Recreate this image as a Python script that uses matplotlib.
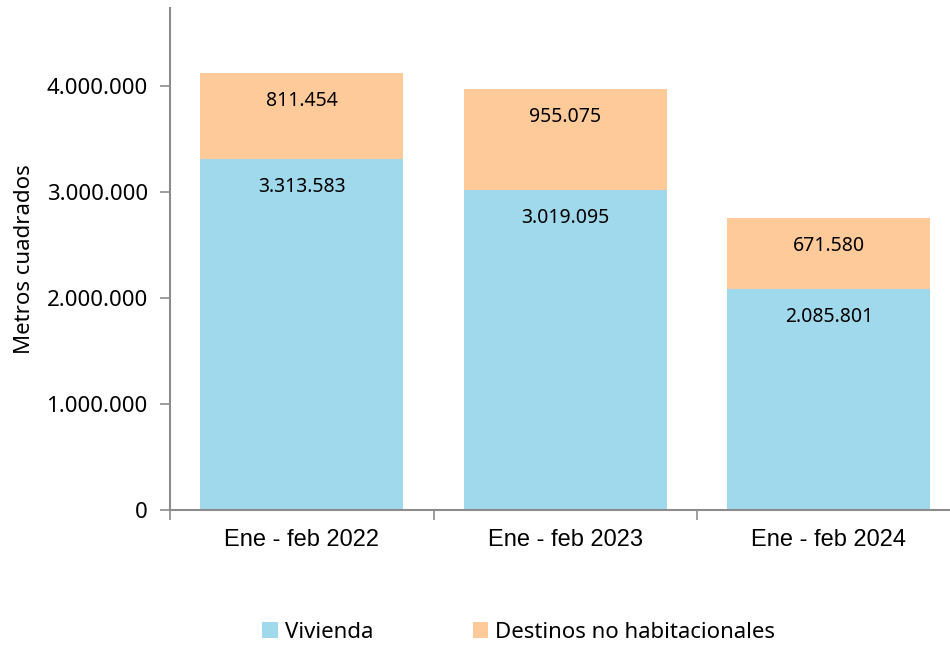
import matplotlib
matplotlib.use('Agg')
import matplotlib.pyplot as plt
import numpy as np
from matplotlib.ticker import FuncFormatter, FixedLocator

categorias = ['Ene - feb 2022', 'Ene - feb 2023', 'Ene - feb 2024']
vivienda = [3313583, 3019095, 2085801]
no_habitacional = [811454, 955075, 671580]

AZUL = '#A0D9EC'
NARANJA = '#FFCA99'
GRIS = '#8C8C8C'

def miles(v):
    return '{:,.0f}'.format(v).replace(',', '.')

fig = plt.figure(figsize=(9.5, 6.45), dpi=100)
ax = fig.add_axes([170/950, 1 - 510/645, 1 - 170/950, (510 - 8)/645])

x = np.arange(len(categorias))
ax.bar(x, vivienda, width=0.77, color=AZUL, label='Vivienda', zorder=2)
ax.bar(x, no_habitacional, width=0.77, bottom=vivienda, color=NARANJA,
       label='Destinos no habitacionales', zorder=2)

for i in range(len(x)):
    ax.annotate(miles(vivienda[i]), (x[i], vivienda[i]), xytext=(0, -20),
                textcoords='offset points', ha='center', va='center',
                fontsize=14, family='Noto Sans')
    ax.annotate(miles(no_habitacional[i]), (x[i], vivienda[i] + no_habitacional[i]),
                xytext=(0, -20), textcoords='offset points', ha='center', va='center',
                fontsize=14, family='Noto Sans')

ax.set_xlim(-0.5, 2.46)
ax.set_ylim(0, 4736000)
ax.set_yticks([0, 1000000, 2000000, 3000000, 4000000])
ax.yaxis.set_major_formatter(FuncFormatter(lambda v, p: miles(v)))
for t in ax.get_yticklabels():
    t.set_family('Noto Sans')
    t.set_fontsize(16)

ax.set_xticks(x)
ax.set_xticklabels(categorias, family='Liberation Sans', fontsize=17)
ax.xaxis.set_minor_locator(FixedLocator([-0.5, 0.5, 1.5, 2.5]))
ax.tick_params(axis='x', which='major', length=0, pad=14)
ax.tick_params(axis='x', which='minor', length=7, color=GRIS, width=1.2)
ax.tick_params(axis='y', length=7, color=GRIS, width=1.2, pad=9)

for s in ['top', 'right']:
    ax.spines[s].set_visible(False)
for s in ['left', 'bottom']:
    ax.spines[s].set_color(GRIS)
    ax.spines[s].set_linewidth(1.5)

ax.set_ylabel('Metros cuadrados', family='Noto Sans', fontsize=16, labelpad=8)

fig.legend(loc='center', bbox_to_anchor=(0.546, 1 - 632/645), ncol=2, frameon=False,
           prop={'family': 'Noto Sans', 'size': 16}, handlelength=0.7, handleheight=0.7,
           handletextpad=0.3, columnspacing=4.5)

fig.savefig('out.png', dpi=100)
